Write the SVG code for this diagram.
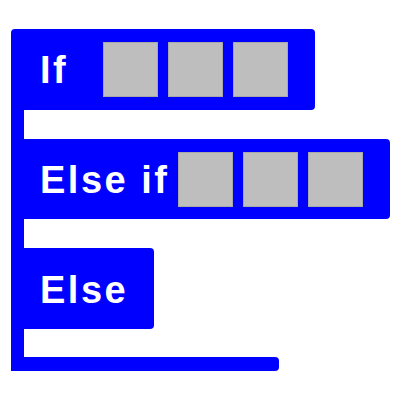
<svg xmlns="http://www.w3.org/2000/svg" width="400" height="400" viewBox="0 0 400 400">
<style>
.blk{fill:#0000ff;}
.slot{fill:#bebebe;stroke:#a8a8a8;stroke-width:1;}
.lbl{fill:#ffffff;font-family:"Liberation Sans",Arial,sans-serif;font-weight:bold;font-size:38px;letter-spacing:2.5px;}
</style>
<rect width="400" height="400" fill="#ffffff"/>
<g id="spine"><rect class="blk" x="11" y="100" width="13" height="271"/></g>
<g id="if">
<rect class="blk" x="11" y="29" width="304" height="81" rx="4"/>
<text class="lbl" x="40" y="83">If</text>
<rect class="slot" x="103.5" y="42.5" width="54" height="54"/>
<rect class="slot" x="168.5" y="42.5" width="54" height="54"/>
<rect class="slot" x="233.5" y="42.5" width="54" height="54"/>
</g>
<g id="elseif">
<rect class="blk" x="11" y="139" width="379" height="80" rx="4"/>
<text class="lbl" x="40" y="193">Else if</text>
<rect class="slot" x="178.5" y="152.5" width="54" height="54"/>
<rect class="slot" x="243.5" y="152.5" width="54" height="54"/>
<rect class="slot" x="308.5" y="152.5" width="54" height="54"/>
</g>
<g id="else">
<rect class="blk" x="11" y="248" width="143" height="81" rx="4"/>
<text class="lbl" x="40" y="303">Else</text>
</g>
<g id="end"><rect class="blk" x="11" y="357" width="268" height="14" rx="4"/></g>
<g id="connectors"></g>
</svg>
